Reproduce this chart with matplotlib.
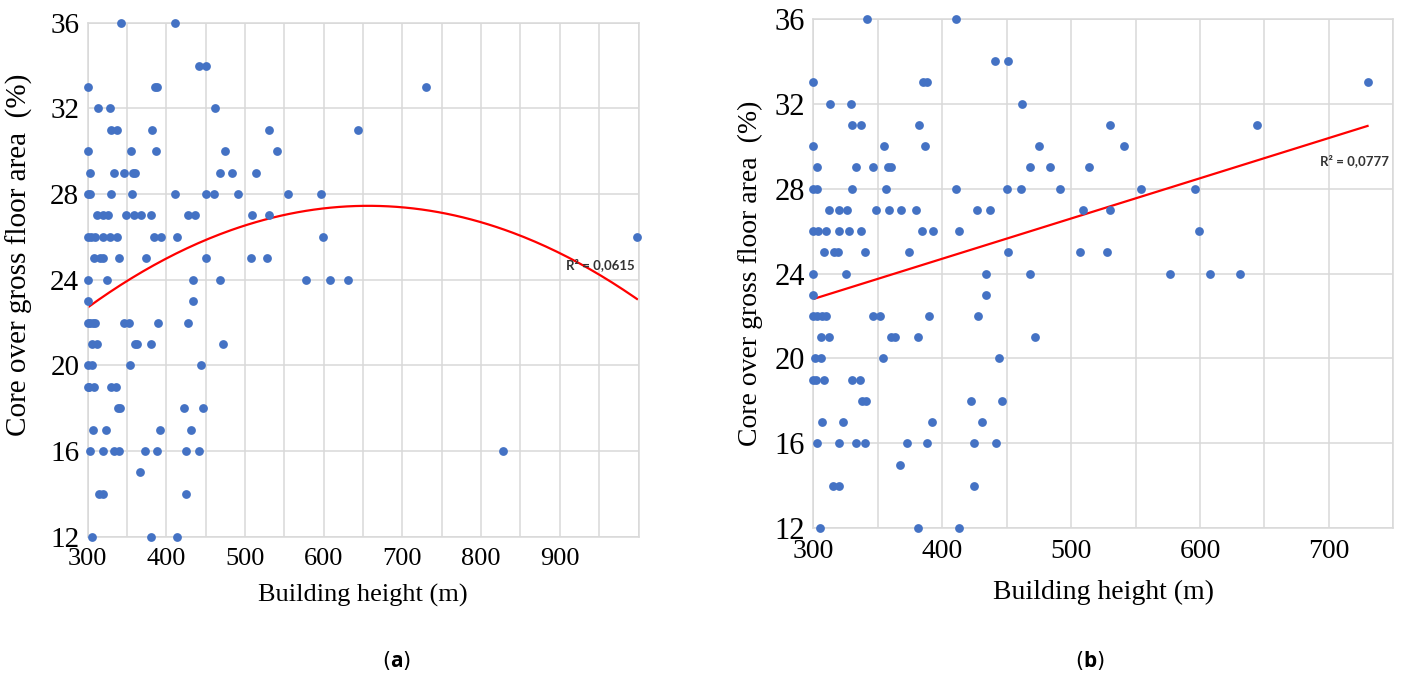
import numpy as np
import matplotlib
matplotlib.use("Agg")
import matplotlib.pyplot as plt

# core ratio (%) -> building heights (m) of the towers with that ratio
ROW_36 = [342, 411]
ROW_34 = [441, 451]
ROW_33 = [300, 385, 388, 730]
ROW_32 = [313, 329, 462]
ROW_31 = [330, 337, 382, 530, 644]
ROW_30 = [300, 355, 387, 475, 541]
ROW_29 = [303, 333, 346, 358, 360, 468, 484, 514]
ROW_28 = [300, 303, 330, 356, 411, 450, 461, 491, 554, 596]
ROW_27 = [312, 320, 326, 349, 359, 368, 380, 427, 437, 509, 530]
ROW_26 = [300, 304, 310, 320, 328, 337, 384, 393, 413, 599]
ROW_25 = [308, 316, 319, 340, 374, 451, 507, 528]
ROW_24 = [300, 325, 434, 468, 577, 608, 631]
ROW_23 = [300, 434]
ROW_22 = [300, 303, 307, 310, 346, 352, 390, 428]
ROW_21 = [306, 312, 360, 363, 381, 472]
ROW_20 = [301, 306, 354, 444]
ROW_19 = [300, 302, 308, 330, 336]
ROW_18 = [338, 341, 422, 446]
ROW_17 = [307, 323, 392, 431]
ROW_16 = [303, 320, 333, 340, 373, 388, 425, 442]
ROW_15 = [367]
ROW_14 = [315, 320, 425]
ROW_12 = [305, 381, 413]
ROWS = {36: ROW_36, 34: ROW_34, 33: ROW_33, 32: ROW_32, 31: ROW_31, 30: ROW_30,
        29: ROW_29, 28: ROW_28, 27: ROW_27, 26: ROW_26, 25: ROW_25, 24: ROW_24,
        23: ROW_23, 22: ROW_22, 21: ROW_21, 20: ROW_20, 19: ROW_19, 18: ROW_18,
        17: ROW_17, 16: ROW_16, 15: ROW_15, 14: ROW_14, 12: ROW_12}
# the two very tall towers only shown in panel (a)
OUTLIER_H = [828, 998]
OUTLIER_CORE = [16, 26]

# Excel trendlines (points they pass through)
TREND_A_X = [300, 657, 998]   # order-2 polynomial
TREND_A_Y = [22.7, 27.45, 23.1]
TREND_B_X = [300, 730]        # linear
TREND_B_Y = [22.8, 30.95]
R2_A = "R² = 0,0615"
R2_B = "R² = 0,0777"

h = np.array([x for k, v in ROWS.items() for x in v], dtype=float)
core = np.array([k for k, v in ROWS.items() for x in v], dtype=float)
h_all = np.concatenate([h, OUTLIER_H])
core_all = np.concatenate([core, OUTLIER_CORE])

BLUE = "#4472C4"
RED = "#ff0000"
GRID = "#d9d9d9"
SERIF = ["Liberation Serif", "DejaVu Serif"]

plt.rcParams["mathtext.fontset"] = "custom"
plt.rcParams["mathtext.rm"] = "Open Sans"
plt.rcParams["mathtext.bf"] = "Open Sans:bold"

fig = plt.figure(figsize=(14.04, 6.78), dpi=100)
axA = fig.add_axes([0.0624, 0.2084, 0.3924, 0.7581])
axB = fig.add_axes([0.5793, 0.2208, 0.4131, 0.7516])


def style(ax, xmax, tfs, yfs):
    ax.set_ylim(12, 36)
    ax.set_xlim(300, xmax)
    yt = np.arange(12, 37, 4)
    ax.set_yticks(yt)
    xt = np.arange(300, xmax + 1, 50)
    ax.set_xticks(xt)
    ax.set_xticklabels([str(int(v)) if v % 100 == 0 and v < xmax else "" for v in xt],
                       fontfamily=SERIF, fontsize=tfs)
    ax.set_yticklabels([str(int(v)) for v in yt], fontfamily=SERIF, fontsize=yfs)
    ax.tick_params(length=0)
    ax.tick_params(axis="y", pad=6)
    ax.tick_params(axis="x", pad=8)
    ax.grid(True, color=GRID, linewidth=1.1)
    ax.set_axisbelow(True)
    for s in ax.spines.values():
        s.set_color(GRID)
        s.set_linewidth(1.1)


# (a) quadratic trend over all towers
style(axA, 1000, 19, 21)
axA.scatter(h_all, core_all, s=40, color=BLUE, clip_on=False, zorder=3, linewidths=0)
cA = np.polyfit(TREND_A_X, TREND_A_Y, 2)
xa = np.linspace(TREND_A_X[0], TREND_A_X[-1], 200)
axA.plot(xa, np.polyval(cA, xa), color=RED, linewidth=1.6, zorder=2)
axA.text(952, 24.7, R2_A, fontsize=9.5, fontweight="bold", color="#333333",
         family="Lato", ha="center", va="center")
axA.set_xlabel("Building height (m)", fontfamily=SERIF, fontsize=19, labelpad=10)
axA.set_ylabel("Core over gross floor area  (%)", fontfamily=SERIF, fontsize=21, labelpad=6)
axA.yaxis.set_label_coords(-0.1, 0.548)

# (b) linear trend, towers up to 750 m
style(axB, 750, 20, 22)
axB.scatter(h, core, s=40, color=BLUE, clip_on=False, zorder=3, linewidths=0)
axB.plot(TREND_B_X, TREND_B_Y, color=RED, linewidth=1.6, zorder=2)
axB.text(720, 29.3, R2_B, fontsize=9.5, fontweight="bold", color="#333333",
         family="Lato", ha="center", va="center")
axB.set_xlabel("Building height (m)", fontfamily=SERIF, fontsize=20, labelpad=11)
axB.set_ylabel("Core over gross floor area  (%)", fontfamily=SERIF, fontsize=20, labelpad=8)

fig.text(397 / 1404, 1 - 661 / 678, r"($\mathbf{a}$)", fontsize=15, ha="center", va="center")
fig.text(1090 / 1404, 1 - 661 / 678, r"($\mathbf{b}$)", fontsize=15, ha="center", va="center")

fig.savefig("out.png", dpi=100, facecolor="white")
